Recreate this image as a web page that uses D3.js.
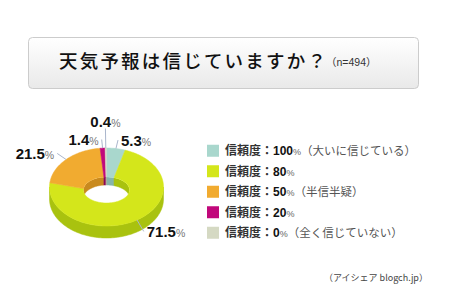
<!DOCTYPE html>
<html>
<head>
<meta charset="utf-8">
<script src="https://cdn.jsdelivr.net/npm/d3@7"></script>
<style>
  body { margin: 0; background: #fff; }
  svg { display: block; font-family: "Liberation Sans", "Noto Sans CJK JP", sans-serif; }
</style>
</head>
<body>
<svg id="chart" width="450" height="300"></svg>
<script>
// chart data
var title = '天気予報は信じていますか？';
var sampleNote = '（n=494）';
var levels = ['100', '80', '50', '20', '0'];
var notes = ['（大いに信じている）', '', '（半信半疑）', '', '（全く信じていない）'];
var shares = [5.3, 71.5, 21.5, 1.4, 0.4];
var colors = ['#a9d7cd', '#d4e61b', '#f1ab30', '#c1087b', '#d5d9c3'];
var sideColors = ['#86b5aa', '#a9c20f', '#c98a1e', '#8e0659', '#aeb29c'];
var source = '（アイシェア blogch.jp）';

var svg = d3.select('#chart');

// title box
var defs = svg.append('defs');
var grad = defs.append('linearGradient')
    .attr('id', 'boxGrad')
    .attr('x1', 0).attr('y1', 0).attr('x2', 0).attr('y2', 1);
grad.append('stop').attr('offset', '0%').attr('stop-color', '#ffffff');
grad.append('stop').attr('offset', '100%').attr('stop-color', '#e9e9e9');

svg.append('rect')
    .attr('x', 28.5).attr('y', 37.5)
    .attr('width', 390).attr('height', 51)
    .attr('rx', 4)
    .attr('fill', 'url(#boxGrad)')
    .attr('stroke', '#cccccc');

svg.append('text')
    .attr('x', 59).attr('y', 67.5)
    .attr('font-size', 18.5)
    .attr('font-weight', 500)
    .attr('letter-spacing', 2.2)
    .attr('fill', '#111')
    .style('font-family', '"Noto Sans CJK JP", sans-serif')
    .text(title);

svg.append('text')
    .attr('x', 326).attr('y', 66)
    .attr('font-size', 10.5)
    .attr('fill', '#333')
    .text(sampleNote);

// 3d donut geometry
var cx = 106.5, cy = 187, rx = 57, ry = 39, depth = 12;
var irx = 23, iry = 13, icy = 190, innerDepth = 8;

var pie = d3.pie().sort(null).value(function(d) { return d; });
var arcs = pie(shares);

function pt(a, erx, ery, ecy) {
    return [cx + erx * Math.sin(a), ecy - ery * Math.cos(a)];
}

function arcPts(a0, a1, erx, ery, ecy) {
    var n = Math.max(2, Math.ceil(Math.abs(a1 - a0) / 0.03));
    return d3.range(n + 1).map(function(i) {
        return pt(a0 + (a1 - a0) * i / n, erx, ery, ecy);
    });
}

var line = d3.line();

// clip for the inner wall seen through the hole
defs.append('clipPath').attr('id', 'hole')
    .append('ellipse')
    .attr('cx', cx).attr('cy', icy)
    .attr('rx', irx).attr('ry', iry);

var pieG = svg.append('g');

// inner wall (back half only)
var backParts = [[0, Math.PI / 2], [3 * Math.PI / 2, 2 * Math.PI]];
var innerG = pieG.append('g').attr('clip-path', 'url(#hole)');
arcs.forEach(function(d, i) {
    backParts.forEach(function(part) {
        var s = Math.max(d.startAngle, part[0]);
        var e = Math.min(d.endAngle, part[1]);
        if (s >= e) return;
        var pts = arcPts(s, e, irx, iry, icy)
            .concat(arcPts(e, s, irx, iry, icy + innerDepth));
        innerG.append('path')
            .attr('d', line(pts) + 'Z')
            .attr('fill', sideColors[i])
            .attr('stroke', sideColors[i])
            .attr('stroke-width', 0.5);
    });
});

// outer wall (front half only)
arcs.forEach(function(d, i) {
    var s = Math.max(d.startAngle, Math.PI / 2);
    var e = Math.min(d.endAngle, 3 * Math.PI / 2);
    if (s >= e) return;
    var pts = arcPts(s, e, rx, ry, cy)
        .concat(arcPts(e, s, rx, ry, cy + depth));
    pieG.append('path')
        .attr('d', line(pts) + 'Z')
        .attr('fill', sideColors[i])
        .attr('stroke', sideColors[i])
        .attr('stroke-width', 0.5);
});

// top faces
arcs.forEach(function(d, i) {
    var pts = arcPts(d.startAngle, d.endAngle, rx, ry, cy)
        .concat(arcPts(d.endAngle, d.startAngle, irx, iry, icy));
    pieG.append('path')
        .attr('d', line(pts) + 'Z')
        .attr('fill', colors[i])
        .attr('stroke', colors[i])
        .attr('stroke-width', 0.5);
});

// percentage labels with leader lines, biggest first, pushed out on overlap
var labelG = svg.append('g');
var placed = [];

function overlaps(b) {
    return placed.some(function(p) {
        return b.x < p.x + p.width && b.x + b.width > p.x &&
               b.y < p.y + p.height && b.y + b.height > p.y;
    });
}

arcs.slice().sort(function(a, b) { return b.value - a.value; }).forEach(function(d) {
    var mid = (d.startAngle + d.endAngle) / 2;
    var s = Math.sin(mid), c = Math.cos(mid);
    var anchor = s > 0.05 ? 'start' : (s < -0.05 ? 'end' : 'middle');
    var drop = c < 0 ? depth * 0.35 : 0;
    var start = pt(mid, rx, ry, cy);

    var leader = labelG.append('line')
        .attr('stroke', '#aab6cc')
        .attr('stroke-width', 1);
    var text = labelG.append('text')
        .attr('text-anchor', anchor)
        .attr('dy', '0.35em');
    text.append('tspan')
        .attr('font-size', 15)
        .attr('font-weight', 'bold')
        .attr('fill', '#111')
        .text(d.value);
    text.append('tspan')
        .attr('font-size', 10.5)
        .attr('fill', '#777')
        .text('%');

    var f = 1.22, box;
    for (var k = 0; k < 30; k++) {
        var end = pt(mid, rx * f, ry * f, cy);
        end[1] += drop;
        var lx = end[0] + (anchor === 'start' ? 3 : (anchor === 'end' ? -3 : 0));
        var ly = end[1] - (anchor === 'middle' ? 7 : 0);
        leader.attr('x1', start[0]).attr('y1', start[1])
            .attr('x2', end[0]).attr('y2', end[1]);
        text.attr('x', lx).attr('y', ly);
        box = text.node().getBBox();
        if (!overlaps(box)) break;
        f += 0.04;
    }
    placed.push(box);
});

// legend
var legendY = d3.scaleBand()
    .domain(d3.range(levels.length))
    .range([140.5, 243]);

var legend = svg.append('g')
    .selectAll('g')
    .data(levels)
    .join('g')
    .attr('transform', function(d, i) {
        return 'translate(207,' + (legendY(i) + legendY.bandwidth() / 2) + ')';
    });

legend.append('rect')
    .attr('x', 0).attr('y', -6)
    .attr('width', 12).attr('height', 12)
    .attr('fill', function(d, i) { return colors[i]; });

var legendText = legend.append('text')
    .attr('x', 18)
    .attr('dy', '0.36em')
    .attr('font-size', 12);

legendText.append('tspan')
    .attr('font-weight', 'bold')
    .attr('fill', '#333')
    .text('信頼度：');
legendText.append('tspan')
    .attr('font-weight', 'bold')
    .attr('fill', '#111')
    .text(function(d) { return d; });
legendText.append('tspan')
    .attr('font-size', 9)
    .attr('fill', '#666')
    .text('%');
legendText.append('tspan')
    .attr('font-size', 11.5)
    .attr('fill', '#555')
    .text(function(d, i) { return notes[i]; });

// source
svg.append('text')
    .attr('x', 324).attr('y', 281)
    .attr('font-size', 9)
    .attr('fill', '#444')
    .style('font-family', '"Noto Sans CJK JP", sans-serif')
    .text(source);
</script>
</body>
</html>
